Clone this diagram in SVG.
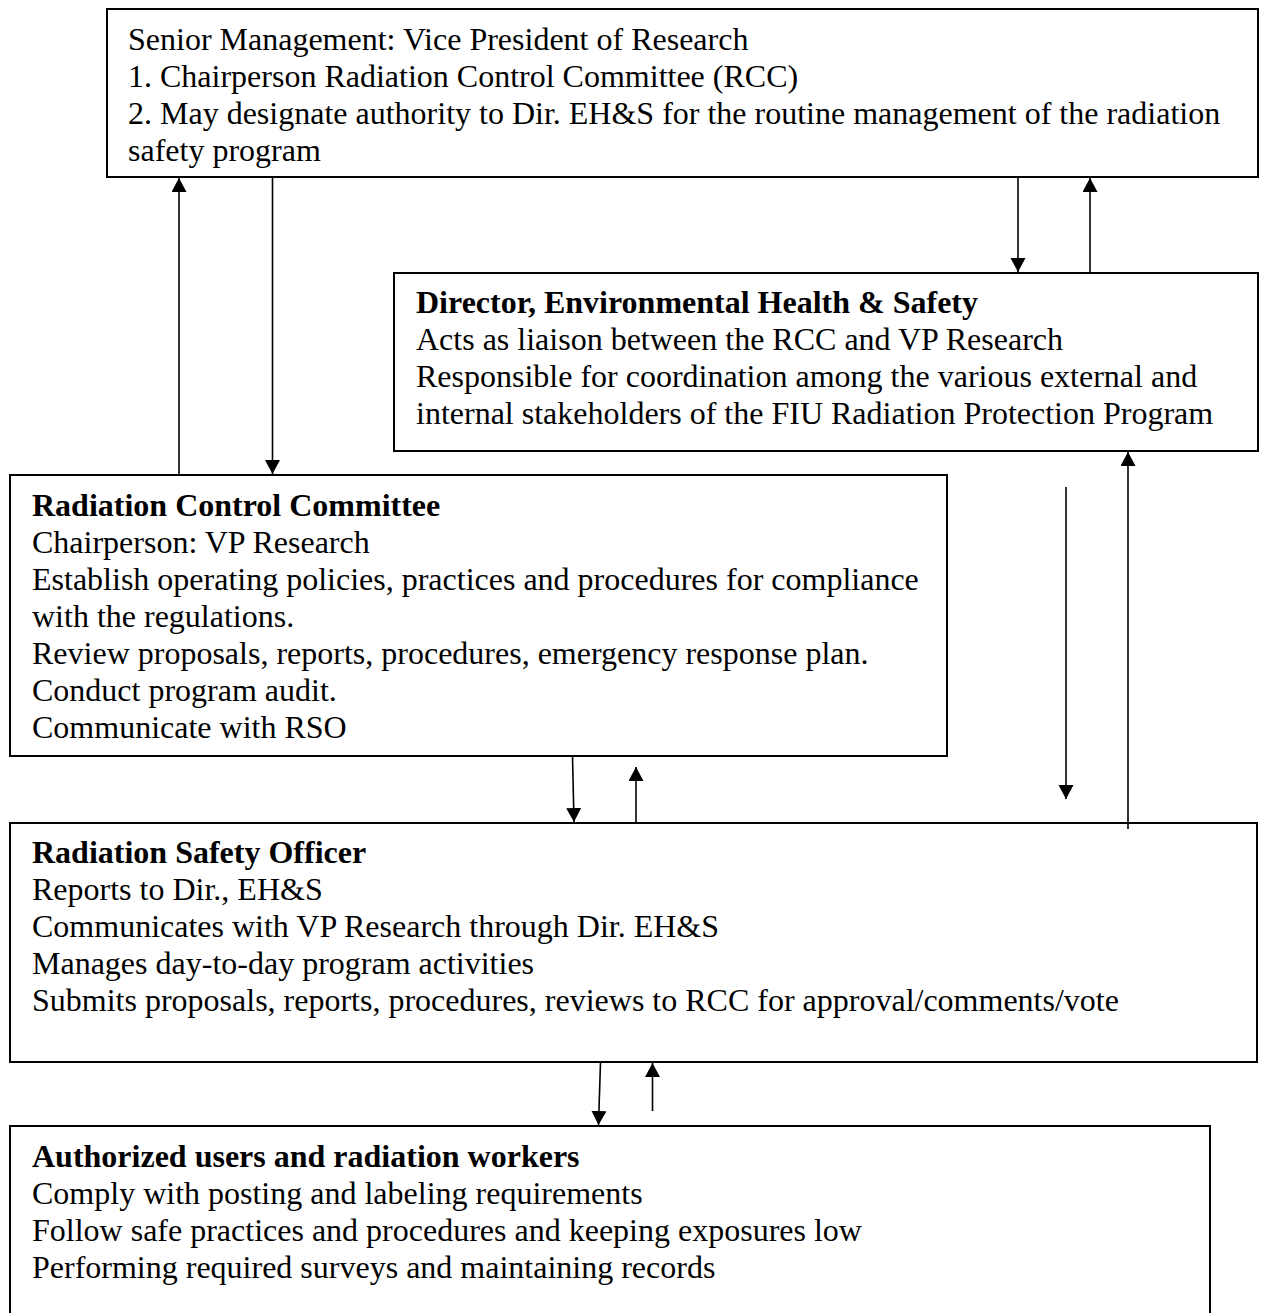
<svg xmlns="http://www.w3.org/2000/svg" width="1261" height="1313" viewBox="0 0 1261 1313">
<style>
.box{fill:#fff;stroke:#000;stroke-width:2}
.t{font-family:"Liberation Serif","Times New Roman",serif;font-size:32px;fill:#000}
.b{font-weight:bold}
.c{stroke:#000;stroke-width:1.6;fill:none;marker-end:url(#ah)}
</style>
<defs>
<marker id="ah" markerUnits="userSpaceOnUse" markerWidth="15" markerHeight="16" refX="14" refY="7.5" orient="auto">
<path d="M0,0 L14,7.5 L0,15 z" fill="#000"/>
</marker>
</defs>
<rect width="1261" height="1313" fill="#fff"/>
<g id="senior-management">
<rect class="box" x="107" y="9" width="1151" height="168"/>
<text class="t" x="128" y="50">Senior Management: Vice President of Research</text>
<text class="t" x="128" y="87">1. Chairperson Radiation Control Committee (RCC)</text>
<text class="t" x="128" y="124">2. May designate authority to Dir. EH&amp;S for the routine management of the radiation</text>
<text class="t" x="128" y="161">safety program</text>
</g>
<g id="director-ehs">
<rect class="box" x="394" y="273" width="864" height="178"/>
<text class="t b" x="416" y="313">Director, Environmental Health &amp; Safety</text>
<text class="t" x="416" y="350">Acts as liaison between the RCC and VP Research</text>
<text class="t" x="416" y="387">Responsible for coordination among the various external and</text>
<text class="t" x="416" y="424">internal stakeholders of the FIU Radiation Protection Program</text>
</g>
<g id="rcc">
<rect class="box" x="10" y="475" width="937" height="281"/>
<text class="t b" x="32" y="516">Radiation Control Committee</text>
<text class="t" x="32" y="553">Chairperson: VP Research</text>
<text class="t" x="32" y="590">Establish operating policies, practices and procedures for compliance</text>
<text class="t" x="32" y="627">with the regulations.</text>
<text class="t" x="32" y="664">Review proposals, reports, procedures, emergency response plan.</text>
<text class="t" x="32" y="701">Conduct program audit.</text>
<text class="t" x="32" y="738">Communicate with RSO</text>
</g>
<g id="rso">
<rect class="box" x="10" y="823" width="1247" height="239"/>
<text class="t b" x="32" y="863">Radiation Safety Officer</text>
<text class="t" x="32" y="900">Reports to Dir., EH&amp;S</text>
<text class="t" x="32" y="937">Communicates with VP Research through Dir. EH&amp;S</text>
<text class="t" x="32" y="974">Manages day-to-day program activities</text>
<text class="t" x="32" y="1011">Submits proposals, reports, procedures, reviews to RCC for approval/comments/vote</text>
</g>
<g id="authorized-users">
<rect class="box" x="10" y="1126" width="1200" height="210"/>
<text class="t b" x="32" y="1167">Authorized users and radiation workers</text>
<text class="t" x="32" y="1204">Comply with posting and labeling requirements</text>
<text class="t" x="32" y="1241">Follow safe practices and procedures and keeping exposures low</text>
<text class="t" x="32" y="1278">Performing required surveys and maintaining records</text>
</g>
<g id="connectors">
<line class="c" x1="179" y1="474" x2="179" y2="178"/>
<line class="c" x1="272.5" y1="178" x2="272.5" y2="474"/>
<line class="c" x1="1018" y1="178" x2="1018" y2="272"/>
<line class="c" x1="1090" y1="272" x2="1090" y2="178"/>
<line class="c" x1="572.5" y1="756" x2="574" y2="822"/>
<line class="c" x1="636" y1="822" x2="636" y2="767"/>
<line class="c" x1="1066" y1="487" x2="1066" y2="799"/>
<line class="c" x1="1128" y1="829" x2="1128" y2="452"/>
<line class="c" x1="600.5" y1="1062" x2="598.5" y2="1125"/>
<line class="c" x1="652.5" y1="1111" x2="652.5" y2="1063"/>
</g>
</svg>
